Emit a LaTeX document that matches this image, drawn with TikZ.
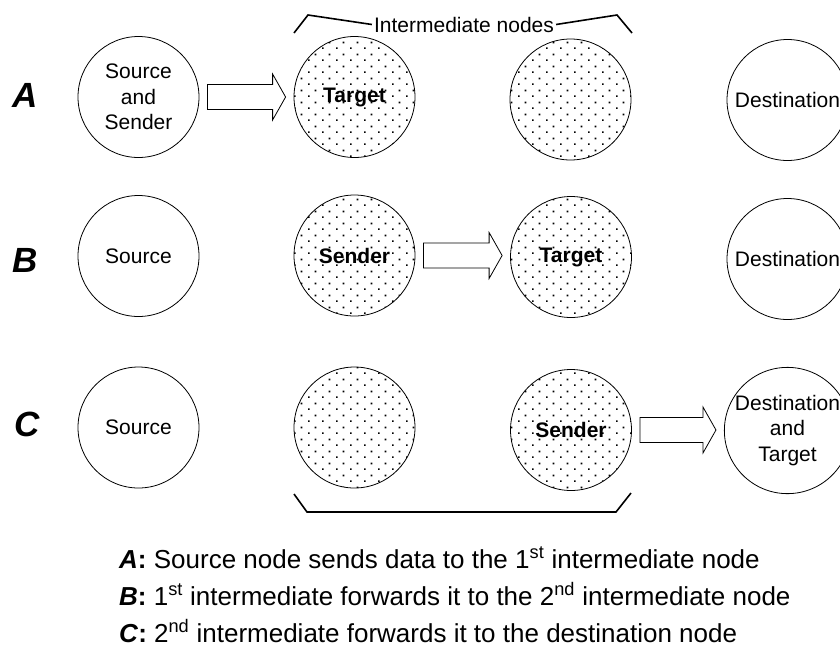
\documentclass[tikz,border=0pt]{standalone}
\usepackage{fontspec}
\setmainfont{Liberation Sans}
\usetikzlibrary{patterns,calc}
\pgfdeclarepatternformonly{smalldots}{\pgfqpoint{0pt}{0pt}}{\pgfqpoint{14pt}{12pt}}{\pgfqpoint{14pt}{12pt}}{%
  \pgfpathrectangle{\pgfqpoint{0pt}{0pt}}{\pgfqpoint{1.8pt}{1.8pt}}%
  \pgfpathrectangle{\pgfqpoint{7pt}{6pt}}{\pgfqpoint{1.8pt}{1.8pt}}%
  \pgfusepath{fill}}
\newcommand\flowarrow[2]{%
  \draw[blockarrow] let \p1=($(#1.east)+(8,0)$), \p2=($(#2.west)+(-8,0)$) in
    (\x1,\y1+12.5pt) -- (\x2-13pt,\y1+12.5pt) -- (\x2-13pt,\y1+23pt) -- (\x2,\y1)
    -- (\x2-13pt,\y1-23pt) -- (\x2-13pt,\y1-12.5pt) -- (\x1,\y1-12.5pt) -- cycle;}
\begin{document}
\begin{tikzpicture}[x=1pt,y=-1pt,
  netnode/.style={circle, draw, line width=0.8pt, minimum size=121pt, inner sep=0pt,
    align=center, font=\fontsize{21}{25.5}\selectfont},
  relay/.style={netnode, pattern=smalldots, font=\fontsize{21}{25.5}\selectfont\bfseries},
  rowlabel/.style={inner sep=0pt, font=\fontsize{35}{35}\selectfont\bfseries\itshape},
  caption/.style={anchor=base west, inner sep=0pt, font=\fontsize{26}{30}\selectfont},
  bracket/.style={line width=1.6pt},
  blockarrow/.style={draw, line width=0.8pt, fill=white, line join=miter}]
\useasboundingbox (0,0) rectangle (840,649);

% row labels
\node[rowlabel] (la) at (25,95) {A};
\node[rowlabel] (lb) at (25.5,260) {B};
\node[rowlabel] (lc) at (27,424) {C};

% row A
\node[netnode] (sA) at (138.5,97) {Source\\and\\Sender};
\node[relay] (iA1) at (354.5,97) {Target};
\node[relay] (iA2) at (570.5,99.5) {};
\node[netnode] (dA) at (787.5,100) {Destination};

% row B
\node[netnode] (sB) at (138.5,256) {Source};
\node[relay] (iB1) at (354.5,255.5) {Sender};
\node[relay] (iB2) at (571,257) {Target};
\node[netnode] (dB) at (787.5,259) {Destination};

% row C
\node[netnode] (sC) at (138.5,427.5) {Source};
\node[relay] (iC1) at (354.5,427.5) {};
\node[relay] (iC2) at (571,430) {Sender};
\node[netnode] (dC) at (787.5,430.5) {Destination\\and\\Target};

% block arrows
\flowarrow{sA}{iA1}
\flowarrow{iB1}{iB2}
\flowarrow{iC2}{dC}

% top bracket
\node[inner sep=0pt, anchor=base, font=\fontsize{21}{25}\selectfont] (inter) at (464,32) {Intermediate nodes};
\coordinate (tl1) at (294,33);
\coordinate (tl2) at (308,15);
\coordinate (tr1) at (617,15);
\coordinate (tr2) at (632,33);
\draw[bracket] (tl1) -- (tl2) -- ($(inter.west)+(-2,0)$ |- tl2);
\draw[bracket] ($(inter.east)+(2,0)$ |- tr1) -- (tr1) -- (tr2);

% bottom bracket
\coordinate (bl1) at (294,494);
\coordinate (bl2) at (307,512);
\coordinate (br1) at (616,512);
\coordinate (br2) at (631,493);
\draw[bracket] (bl1) -- (bl2) -- (br1) -- (br2);

% captions
\node[caption] (capA) at (119,568) {\textbf{\textit{A}:} Source node sends data to the 1\textsuperscript{st} intermediate node};
\node[caption] (capB) at (119,605) {\textbf{\textit{B}:} 1\textsuperscript{st} intermediate forwards it to the 2\textsuperscript{nd} intermediate node};
\node[caption] (capC) at (119,642) {\textbf{\textit{C}:} 2\textsuperscript{nd} intermediate forwards it to the destination node};
\end{tikzpicture}
\end{document}
